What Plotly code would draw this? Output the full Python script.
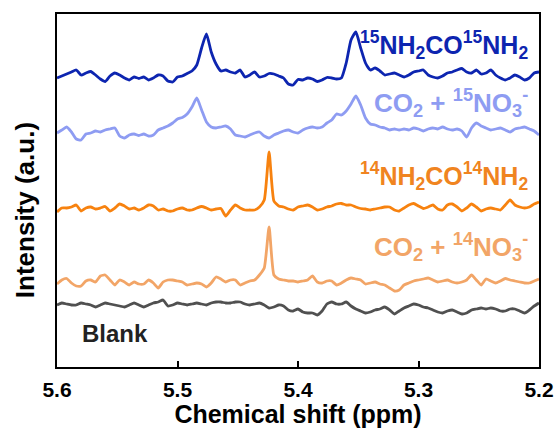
import numpy as np
import plotly.graph_objects as go

# Chemical shift axis (ppm), 0.004 ppm steps from 5.6 down to 5.2
shift = np.round(np.linspace(5.6, 5.2, 101), 3)

# Stacked 1H NMR spectra: signal above each trace's own baseline (a.u.)
urea15 = [-1, 1, 3, 5, 7, 2, 4, 5.5, 2, -2, -4.5, 1, 4, 2, -1, -3, 0, -1.5, 0, -3,
          -1, 2, 1, -4, -5, 0, 1, 3.5, 6, 12, 29, 43, 25, 13, 6, 7, 5, 4, 7, 0,
          2, 5, 0, 1, 3.5, 3, 1, -1, -7, -8, -2.5, -3, -1, -2, -4.5, -3, -0.5, -1, -2, -1,
          14, 37, 45, 29, 14, 7, 9, 6, 2, 3, 4, 2, 0, 2, 5, 6, 7, 2, 0, -1,
          1, 4, 5, 7, 8.5, 5, 4, 7, 3, 4, 7, 2, -1, -3, -1, 2, 0, -3, -1, 4, 5]
co2_no3_15 = [2, 5, 8, 3, -4, -5, 1, 2, 4, 3, 5, 6, 7, -1, -3, 0, 1, -0.5, 1, -1,
              0, 5, 7, 9, 12, 16, 17.5, 21, 28, 37, 25, 13, 8, 7, 8, 9, 6, 0, -1, -2,
              0, 2, 3, -1, -3, 0, 2, 4, 5, 3, 2, 5, 7, 8, 7, 8, 12, 15, 21, 20,
              24, 31, 39, 30, 17, 11, 10, 8, 7, 5, 6, 5, 6, 5, 7, 6, 4, 6, 7, 6,
              8, 6, 5, 6, 4, -2, 7, 12, 9, 7, 5, 6, 7, 5, 3, 6, 7, 8, 6, 4, 0]
urea14 = [-4, 0, 0, 1, 3, -3, 0, 1, -1, 0, 1.5, -3, 0, 4, 2, -1, 0, -2, 0, 3,
          2, -2, -1, -3, -3, -1, 0, -2, -2, 0, 1.5, 0, -2, -1, -0.5, -8, -2, 3, 0, -2,
          -2, -2, 1, 8, 56, 7, 2, 1, -1, -2, 1, 2, 3, 1, -2, -1, 1, 2, 4, 4.5,
          3, 3, 1, -0.5, -1, -2, -1, 0, 1, 1, -2, -3, 0, 3, 4.5, 2, -0.5, 1, 3, -1,
          -2, 3, 4, 1, -3, 0, 4, 1, -3, -1, 0, -1, -2, 3, 8, 3, 1, 0, 1, 4, 6]
co2_no3_14 = [-1, 3, 4.5, 0, -3, -3, 2, 3, 1, 7, 8, 3, -2, 3, 1, -2, 1, -1, -1, 3,
              0, -5, 1, 3, 3, 2, 1, -2, -1, 0, -1, -4, 0, 6, 4, 1, 3, 3, -2, 0,
              2, 3, 8, 15, 56, 8, 4, 3, 2, 2, 1, 2, 3, 7, 1, 0, 2, 2, -2, 0,
              3, 5, 4, 3, -1, 0, 1, -1, -2, -5, -8, -7, -2, 0, 2, 3, 4, 5, 3, 1,
              2, 3, 1, 0, 1, 3, 8, 3, -2, 4, 2, 0, 2, 4.5, 3, 2, 1, 0, 0, 2, 4]
blank = [1, 3, 2, 1, 1, 3, 2, 1, -1, 1, 3, 2, 1, 0, -1, 1, 3, 1, -1, 1,
         3, 4, 6, 0, 1, 3, 2, 1, 2, 3, 2, 1, 3, 4, 4, 3, 3, 4, 4, 2,
         1, 2, 3, 1, -2, -1, 1, 0, -4, -5, -3, -6, -7, -7, -9, -5, 2, 4, 2, 2,
         4, 0, -3, -5, -7, -6, -4, -3, -1, -4, -8, -5, -2, 0, 2, 1, -1, -2, -4, -6,
         -7, -5, -4, -6, -8, -7, -4, -3, -2, -3, -2, -3, -5, -5, -3, -3, -5, -7, -4, 0, 3]

names = ["15N urea", "CO2 + 15NO3-", "14N urea", "CO2 + 14NO3-", "Blank"]
spectra = [urea15, co2_no3_15, urea14, co2_no3_14, blank]
offsets = [290, 232, 159, 84, 61]
colors = ["#0D25B0", "#8E9CF2", "#F7820F", "#F2A567", "#505050"]

labels = [
    "<sup>15</sup>NH<sub>2</sub>CO<sup>15</sup>NH<sub>2</sub>",
    "CO<sub>2</sub> + <sup>15</sup>NO<sub>3</sub><sup>-</sup>",
    "<sup>14</sup>NH<sub>2</sub>CO<sup>14</sup>NH<sub>2</sub>",
    "CO<sub>2</sub> + <sup>14</sup>NO<sub>3</sub><sup>-</sup>",
    "Blank",
]
label_y = [322, 264, 191, 120, 34]
label_sizes = [25, 26, 25, 26, 24]
label_colors = ["#0D25B0", "#8E9CF2", "#F08420", "#F2A567", "#222222"]

FONT = "Liberation Sans, Arial, sans-serif"

fig = go.Figure()
for name, sig, off, col in zip(names, spectra, offsets, colors):
    fig.add_trace(go.Scatter(
        x=shift, y=np.asarray(sig, float) + off, mode="lines", name=name,
        line=dict(color=col, width=2.8, shape="spline", smoothing=0.5),
        showlegend=False,
    ))

for txt, yv, sz, col in zip(labels, label_y, label_sizes, label_colors):
    if txt == "Blank":
        fig.add_annotation(x=5.581, y=yv, xref="x", yref="y", text="<b>%s</b>" % txt,
                           showarrow=False, xanchor="left", yanchor="middle",
                           font=dict(family=FONT, size=sz, color=col))
    else:
        fig.add_annotation(x=5.2075, y=yv, xref="x", yref="y", text="<b>%s</b>" % txt,
                           showarrow=False, xanchor="right", yanchor="middle",
                           font=dict(family=FONT, size=sz, color=col))

fig.add_annotation(x=-0.066, y=157, xref="paper", yref="y",
                   text="<b>Intensity (a.u.)</b>", textangle=-90, showarrow=False,
                   xanchor="center", yanchor="middle",
                   font=dict(family=FONT, size=26, color="black"))

fig.update_layout(
    width=555, height=428,
    margin=dict(l=57, r=16, t=14, b=61),
    plot_bgcolor="white", paper_bgcolor="white",
    font=dict(family=FONT, color="black"),
)
fig.update_xaxes(
    range=[5.6, 5.2], tickvals=[5.6, 5.5, 5.4, 5.3, 5.2],
    ticktext=["<b>5.6</b>", "<b>5.5</b>", "<b>5.4</b>", "<b>5.3</b>", "<b>5.2</b>"],
    ticks="inside", ticklen=6, tickwidth=2, tickcolor="black",
    showline=True, linewidth=2, linecolor="black", mirror=True,
    showgrid=False, zeroline=False, tickfont=dict(size=21, family=FONT),
    ticklabelstandoff=3, automargin=False,
    title=dict(text="<b>Chemical shift (ppm)</b>", font=dict(size=25, family=FONT), standoff=6),
)
fig.update_yaxes(
    range=[0, 353], showticklabels=False, ticks="",
    showline=True, linewidth=2, linecolor="black", mirror=True,
    showgrid=False, zeroline=False, automargin=False,
)

fig.write_html("out.html")
